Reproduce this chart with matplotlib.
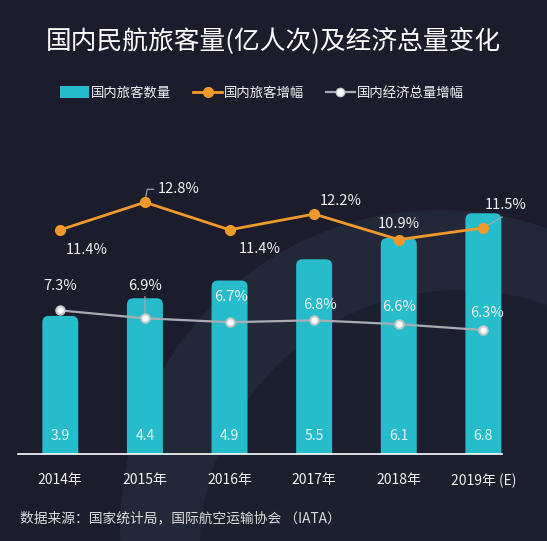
import matplotlib
matplotlib.use("Agg")
import matplotlib.pyplot as plt
from matplotlib.patches import FancyBboxPatch, Circle, Patch
from matplotlib.lines import Line2D

# 数据
years = ["2014年", "2015年", "2016年", "2017年", "2018年", "2019年 (E)"]
passengers = [3.9, 4.4, 4.9, 5.5, 6.1, 6.8]          # 亿人次
passenger_growth = [11.4, 12.8, 11.4, 12.2, 10.9, 11.5]  # %
gdp_growth = [7.3, 6.9, 6.7, 6.8, 6.6, 6.3]           # %

BG = "#1b1d2d"
CYAN = "#27bccb"
ORANGE = "#f2992c"
GREY = "#a9adb3"
TXT = "#f2f2f2"

plt.rcParams['font.family'] = ['Noto Sans CJK SC', 'DejaVu Sans']

fig = plt.figure(figsize=(5.47, 5.41), dpi=100, facecolor=BG)

# 背景圆环
ring = Circle((4.40, 0.11), 3.2, transform=fig.dpi_scale_trans,
              facecolor="#222838", edgecolor="none", zorder=-10)
inner = Circle((4.60, -0.09), 2.6, transform=fig.dpi_scale_trans,
               facecolor="#1c1f2e", edgecolor="none", zorder=-9)
fig.patches.extend([ring, inner])

ax = fig.add_axes([18 / 547, 1 - 454 / 541, 484 / 547, 354 / 541])
ax.set_facecolor("none")
x = list(range(len(years)))
ax.set_xlim(-0.5, 5.22)
ax.set_ylim(0, 10)

bars = ax.bar(x, passengers, width=0.425, color=CYAN)
# 圆角柱子
xr = 5.72 / 484
yr = 10 / 354
for b in bars:
    b.set_visible(False)
    fb = FancyBboxPatch((b.get_x(), -0.5), b.get_width(), b.get_height() + 0.5,
                        boxstyle="round,pad=0,rounding_size=0.075",
                        mutation_aspect=yr / xr, facecolor=CYAN,
                        edgecolor="none", zorder=2)
    ax.add_patch(fb)

for xi, v in zip(x, passengers):
    ax.annotate(f"{v}", (xi, 0), xytext=(0, 18), textcoords="offset pixels",
                ha="center", va="center", color="#e6f7f9", fontsize=10)

for s in ["top", "left", "right"]:
    ax.spines[s].set_visible(False)
ax.spines["bottom"].set_color("#ffffff")
ax.spines["bottom"].set_linewidth(1.2)
ax.set_yticks([])
ax.set_xticks(x)
ax.set_xticklabels(years, color=TXT, fontsize=10)
ax.tick_params(axis="x", length=0, pad=14)

ax2 = ax.twinx()
ax2.set_ylim(0, 18)
ax2.set_yticks([])
for s in ax2.spines.values():
    s.set_visible(False)

ax2.plot(x, passenger_growth, color=ORANGE, lw=2, marker="o", ms=7,
         markerfacecolor=ORANGE, markeredgecolor=ORANGE, zorder=4)
ax2.plot(x, gdp_growth, color=GREY, lw=1.6, marker="o", ms=6,
         markerfacecolor="white", markeredgecolor="#c8c8c8",
         markeredgewidth=1.5, zorder=4)

orange_off = [(26, -20), (34, 13), (30, -19), (27, 13), (0, 16), (22, 23)]
grey_off = [(0, 24), (0, 32), (2, 25), (6, 15), (0, 17), (4, 17)]

for i, (v, off) in enumerate(zip(passenger_growth, orange_off)):
    ax2.annotate(f"{v}%", (i, v), xytext=off, textcoords="offset pixels",
                 ha="center", va="center", color=TXT, fontsize=10.5, zorder=6)
for i, (v, off) in enumerate(zip(gdp_growth, grey_off)):
    ax2.annotate(f"{v}%", (i, v), xytext=off, textcoords="offset pixels",
                 ha="center", va="center", color=TXT, fontsize=10.5, zorder=6)

# 引导线
ax2.annotate("", (1, passenger_growth[1]), xytext=(9, 13), textcoords="offset pixels",
             arrowprops=dict(arrowstyle="-", color=GREY, lw=0.8, shrinkA=0, shrinkB=4,
                             connectionstyle="angle,angleA=0,angleB=80,rad=0"))
ax2.annotate("", (5, passenger_growth[5]), xytext=(19, 11), textcoords="offset pixels",
             arrowprops=dict(arrowstyle="-", color=GREY, lw=0.8, shrinkA=0, shrinkB=4))
ax2.annotate("", (1, gdp_growth[1]), xytext=(0, 22), textcoords="offset pixels",
             arrowprops=dict(arrowstyle="-", color=GREY, lw=0.8, shrinkA=0, shrinkB=4))

# 图例
handles = [
    Patch(facecolor=CYAN, edgecolor="none", label="国内旅客数量"),
    Line2D([], [], color=ORANGE, lw=2, marker="o", ms=7, label="国内旅客增幅"),
    Line2D([], [], color=GREY, lw=1.6, marker="o", ms=6, markerfacecolor="white",
           markeredgecolor="#c8c8c8", label="国内经济总量增幅"),
]
leg = fig.legend(handles=handles, loc="center", bbox_to_anchor=(262 / 547, 1 - 93 / 541),
                 ncol=3, frameon=False, fontsize=9.6, handlelength=2.2,
                 handleheight=1.0, handletextpad=0.15, columnspacing=1.6)
for t in leg.get_texts():
    t.set_color(TXT)

fig.text(0.5, 1 - 42 / 541, "国内民航旅客量(亿人次)及经济总量变化", ha="center",
         va="center", color="white", fontsize=18.5)
fig.text(20 / 547, 1 - 518 / 541, "数据来源：国家统计局，国际航空运输协会 （IATA）",
         ha="left", va="center", color="#dcdcdc", fontsize=9.9)

fig.savefig("out.png", dpi=100, facecolor=BG)
